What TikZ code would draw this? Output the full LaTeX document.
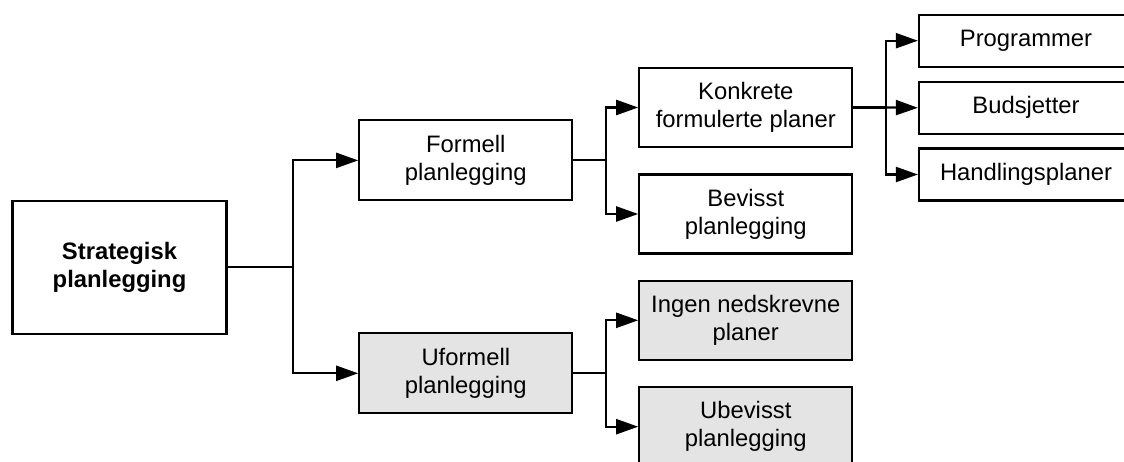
\documentclass[tikz,border=0pt]{standalone}
\usepackage{fontspec}
\setmainfont{Liberation Sans}
\usetikzlibrary{arrows.meta}
\definecolor{boxgray}{RGB}{228,228,228}
\tikzset{
  box/.style={draw=black, line width=2.2pt, fill=white, inner sep=0pt,
    align=center, font=\fontsize{23.8}{28}\selectfont},
  grey/.style={fill=boxgray},
  lvlone/.style={box, minimum width=213pt, minimum height=80pt},
  lvltwo/.style={box, minimum width=213pt, minimum height=79pt},
  lvlthree/.style={box, minimum width=214pt, minimum height=52pt},
  link/.style={line width=2.2pt, draw=black},
  arr/.style={link, -{Triangle[length=22pt, width=15pt]}}
}
\begin{document}
\begin{tikzpicture}[x=1pt, y=-1pt]
\useasboundingbox (0,0) rectangle (1124,462);
\clip (0,0) rectangle (1124,462);

% root
\node[box, minimum width=214pt, minimum height=133pt,
      font=\fontsize{23.8}{28}\selectfont\bfseries] (strat) at (119.5,267.3)
      {Strategisk\\planlegging};

% first level
\node[lvlone] (formell) at (465.8,160.4) {Formell\\planlegging};
\node[lvlone, grey] (uformell) at (465.8,373.3) {Uformell\\planlegging};

% second level
\node[lvltwo] (konkrete) at (745.8,107.5) {Konkrete\\formulerte planer};
\node[lvltwo] (bevisst) at (745.8,214) {Bevisst\\planlegging};
\node[lvltwo, grey] (ingen) at (745.8,320.3) {Ingen nedskrevne\\planer};
\node[lvltwo, grey] (ubevisst) at (745.8,426.7) {Ubevisst\\planlegging};

% third level
\node[lvlthree] (prog) at (1026,40.7) {Programmer};
\node[lvlthree] (buds) at (1026,107.8) {Budsjetter};
\node[lvlthree] (handl) at (1026,174.5) {Handlingsplaner};

% branch points
\coordinate (j1) at (292.7,267.3);
\coordinate (j2) at (605.7,160.4);
\coordinate (j3) at (605.7,373.3);
\coordinate (j4) at (885.7,107.5);

% connectors
\draw[link] (strat.east) -- (j1);
\draw[arr] (j1) |- (formell.west);
\draw[arr] (j1) |- (uformell.west);

\draw[link] (formell.east) -- (j2);
\draw[arr] (j2) |- (konkrete.west);
\draw[arr] (j2) |- (bevisst.west);

\draw[link] (uformell.east) -- (j3);
\draw[arr] (j3) |- (ingen.west);
\draw[arr] (j3) |- (ubevisst.west);

\draw[link] (konkrete.east) -- (j4);
\draw[arr] (j4) |- (prog.west);
\draw[arr] (j4) -- (buds.west);
\draw[arr] (j4) |- (handl.west);
\end{tikzpicture}
\end{document}
